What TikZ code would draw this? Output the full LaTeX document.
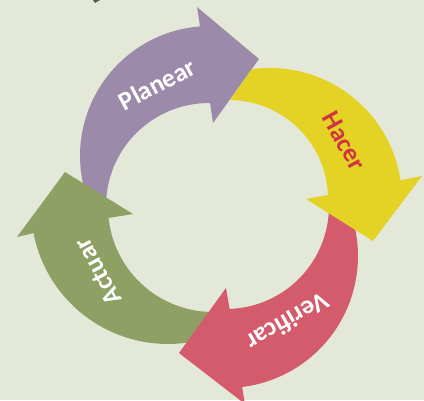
\documentclass[tikz,border=0pt]{standalone}
\usepackage{fontspec}
\setmainfont{Carlito}
\definecolor{fondo}{RGB}{227,232,217}
\definecolor{morado}{RGB}{155,138,170}
\definecolor{amarillo}{RGB}{228,210,37}
\definecolor{rojo}{RGB}{212,91,107}
\definecolor{verde}{RGB}{142,160,99}
\definecolor{rojotexto}{RGB}{208,52,64}
\tikzset{lbl/.style={font=\fontsize{26}{26}\selectfont\bfseries, inner sep=0pt, text=white},
	arco/.style={samples=40}}

\begin{document}
\begin{tikzpicture}[x=1pt,y=-1pt]
	%%%%% START %%%%%
	\useasboundingbox (0,0) rectangle (424,400);
	\fill[fondo] (0,0) rectangle (424,400);
	
	\fill[black!65] (93,0) -- (100,0) -- (95,3) -- cycle;
	
	% planear (angles run clockwise, y goes down)
	\fill[morado] plot[arco, domain=162:265.6] ({210+130*cos(\x)}, {156+130*sin(\x)})
		-- (197,7) -- (259,59) -- (213,123)
		-- plot[arco, domain=270.6:180] ({209+103*cos(\x)}, {206+103*sin(\x)}) -- cycle;
	
	% actuar
	\fill[verde] plot[arco, domain=78:169] ({168+137*cos(\x)}, {207+137*sin(\x)})
		-- (17,237) -- (65,172) -- (133,214)
		-- plot[arco, domain=174:84] ({213+105*cos(\x)}, {207+105*sin(\x)}) -- cycle;
	
	% verificar
	\fill[rojo] plot[arco, domain=-16:83] ({226+132*cos(\x)}, {256+132*sin(\x)})
		-- (245,404) -- (179,353) -- (226,288)
		-- plot[arco, domain=88:-4] ({226+103*cos(\x)}, {206+103*sin(\x)}) -- cycle;
	
	% hacer
	\fill[amarillo] plot[arco, domain=262:351.4] ({270+132*cos(\x)}, {200+132*sin(\x)})
		-- (422,176) -- (373,241) -- (306,199)
		-- plot[arco, domain=357.7:270.6] ({229+99*cos(\x)}, {199+99*sin(\x)}) -- cycle;
	
	\node[lbl, rotate=28] (planear) at (157,84) {Planear};
	\node[lbl, text=rojotexto, rotate=-61] (hacer) at (344,141) {Hacer};
	\node[lbl, rotate=-150] (verificar) at (288,322) {Verificar};
	\node[lbl, rotate=118] (actuar) at (98,272) {Actuar};
	
	%%%%% END %%%%%
\end{tikzpicture}
\end{document}
